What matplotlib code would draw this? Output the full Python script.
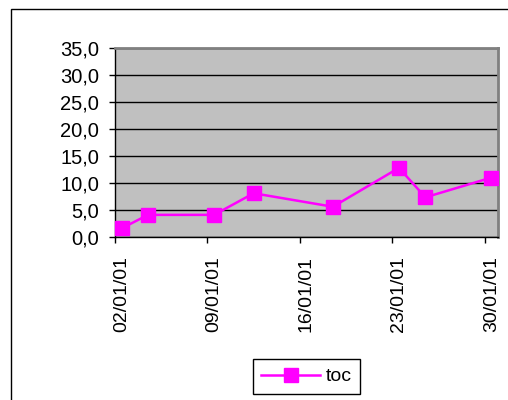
import datetime as dt
import matplotlib
matplotlib.use("Agg")
import matplotlib.pyplot as plt
import matplotlib.dates as mdates
import matplotlib.transforms as mtransforms
from matplotlib.patches import Rectangle

# Data
dates = [dt.datetime(2001, 1, d) for d in [2, 4, 9, 12, 18, 23, 25, 30]]
toc = [1.6, 4.1, 4.1, 8.1, 5.6, 12.8, 7.35, 11.0]
tick_dates = [dt.datetime(2001, 1, d) for d in [2, 9, 16, 23, 30]]
y_ticks = [0, 5, 10, 15, 20, 25, 30, 35]

plt.rcParams['font.family'] = ['Liberation Sans', 'DejaVu Sans']

fig = plt.figure(figsize=(5.08, 4.0), dpi=100)
ax = fig.add_axes([115 / 508, 1 - 237 / 400, (498 - 115) / 508, (237 - 48) / 400])
ax.set_facecolor('#C0C0C0')

# Excel draws each day's point in the middle of the day
x = [d + dt.timedelta(hours=12) for d in dates]
ax.plot(x, toc, color='#FF00FF', lw=1.8, marker='s', markersize=10.5,
        markeredgecolor='#FF00FF', label='toc', zorder=3, clip_on=False)

ax.set_xlim(dt.datetime(2001, 1, 2), dt.datetime(2001, 1, 31))
ax.set_ylim(0, 35)
ax.set_yticks(y_ticks)
ax.set_yticklabels([f"{v:.1f}".replace('.', ',') for v in y_ticks], fontsize=14.5)
ax.set_xticks(tick_dates)
ax.xaxis.set_major_formatter(mdates.DateFormatter('%d/%m/%y'))

ax.grid(axis='y', color='black', lw=1)
ax.set_axisbelow(True)
ax.tick_params(direction='out', length=4, width=1, color='black')
ax.tick_params(axis='y', pad=7.5)
ax.tick_params(axis='x', pad=10)

# date labels sit in the middle of the day, like the points
offset = mtransforms.ScaledTranslation(6.5 / 100, 0, fig.dpi_scale_trans)
for lbl in ax.get_xticklabels():
    lbl.set_rotation(90)
    lbl.set_fontsize(14)
    lbl.set_transform(lbl.get_transform() + offset)

for s in ['top', 'right']:
    ax.spines[s].set_color('#808080')
    ax.spines[s].set_linewidth(2)
for s in ['left', 'bottom']:
    ax.spines[s].set_color('black')
    ax.spines[s].set_linewidth(1)

leg = ax.legend(loc='center', bbox_to_anchor=(306.5 / 508, 1 - 376.5 / 400),
                bbox_transform=fig.transFigure, fontsize=14, fancybox=False,
                framealpha=1, edgecolor='black', handlelength=3.0,
                borderpad=0.45, handletextpad=0.3)
leg.get_frame().set_linewidth(1)

# outer chart border
fig.patches.append(Rectangle((10.5 / 508, -0.1), 1.2, 1.1 - 9 / 400,
                             transform=fig.transFigure, fill=False,
                             edgecolor='black', lw=1))

fig.savefig('out.png', dpi=100)
